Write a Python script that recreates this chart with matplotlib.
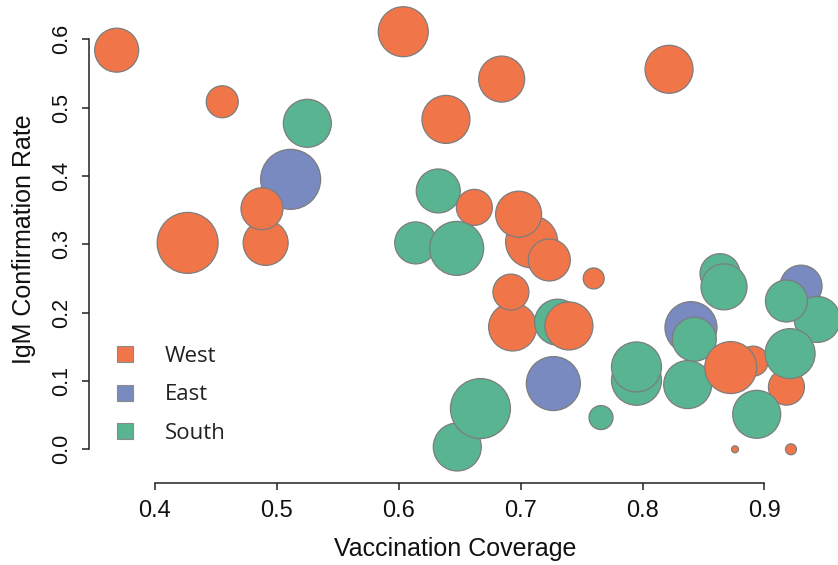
import matplotlib
matplotlib.use("Agg")
from matplotlib import pyplot as plt
from matplotlib.lines import Line2D

# vaccination coverage, IgM confirmation rate, bubble size (cases), region
coverage = [0.3686, 0.4552, 0.525, 0.4268, 0.5113, 0.4908, 0.4878, 0.6037,
            0.6844, 0.6387, 0.8217, 0.6324, 0.662, 0.6139, 0.6475, 0.709,
            0.6983, 0.7235, 0.7599, 0.6934, 0.692, 0.7303, 0.7396, 0.648,
            0.667, 0.7268, 0.7659, 0.795, 0.795, 0.8397, 0.8424, 0.837,
            0.8908, 0.8723, 0.918, 0.8936, 0.8635, 0.8668, 0.93, 0.9433,
            0.918, 0.921, 0.8758, 0.9217]
igm_rate = [0.584, 0.5085, 0.477, 0.302, 0.395, 0.302, 0.352, 0.611,
            0.5417, 0.4827, 0.556, 0.378, 0.354, 0.302, 0.294, 0.3035,
            0.344, 0.277, 0.250, 0.179, 0.230, 0.186, 0.1805, 0.0034,
            0.0596, 0.0962, 0.0464, 0.101, 0.1205, 0.178, 0.161, 0.0947,
            0.129, 0.1196, 0.091, 0.0512, 0.257, 0.2377, 0.2387, 0.19,
            0.217, 0.140, 0.0, 0.0]
cases = [484, 256, 576, 930, 900, 506, 441, 625,
         529, 576, 576, 484, 324, 441, 729, 676,
         529, 441, 110, 576, 324, 529, 576, 576,
         900, 729, 144, 625, 625, 676, 484, 576,
         225, 676, 324, 576, 400, 529, 441, 529,
         441, 625, 12, 30]
region = ["West", "West", "South", "West", "East", "West", "West", "West",
          "West", "West", "West", "South", "West", "South", "South", "West",
          "West", "West", "West", "West", "West", "South", "West", "South",
          "South", "East", "South", "South", "South", "East", "South", "South",
          "West", "West", "West", "South", "South", "South", "East", "South",
          "South", "South", "West", "West"]

regions = ["West", "East", "South"]
region_colors = {"West": "#F0764A", "East": "#798AC1", "South": "#58B491"}

fig = plt.figure(figsize=(8.38, 5.65), dpi=100)
ax = fig.add_axes([89 / 838, 1 - 483 / 565, 749 / 838, 483 / 565])

# radius in px ~ sqrt(cases); scatter s is diameter^2 in points
sizes = [(2 * c ** 0.5 * 0.72) ** 2 for c in cases]
colors = [region_colors[r] for r in region]
ax.scatter(coverage, igm_rate, s=sizes, c=colors, edgecolors="#7d7d7d",
           linewidths=0.9, clip_on=False, zorder=3)

ax.set_xlim(0.3459, 0.9603)
ax.set_ylim(-0.0493, 0.6574)

for side in ["top", "right"]:
    ax.spines[side].set_visible(False)
ax.spines["left"].set_bounds(0, 0.6)
ax.spines["bottom"].set_bounds(0.4, 0.9)
for side in ["left", "bottom"]:
    ax.spines[side].set_linewidth(1.1)
    ax.spines[side].set_color("#222222")

ax.set_xticks([0.4, 0.5, 0.6, 0.7, 0.8, 0.9])
ax.set_yticks([0.0, 0.1, 0.2, 0.3, 0.4, 0.5, 0.6])
ax.set_xticklabels(["0.4", "0.5", "0.6", "0.7", "0.8", "0.9"],
                   family="Liberation Sans", fontsize=17)
ax.set_yticklabels(["0.0", "0.1", "0.2", "0.3", "0.4", "0.5", "0.6"],
                   family=["Liberation Sans Narrow", "Liberation Sans"],
                   fontsize=15.5, rotation=90, va="center")
ax.tick_params(direction="out", length=5, width=1.1, color="#222222",
               pad=7, labelcolor="#111111")

ax.set_xlabel("Vaccination Coverage", family="Liberation Sans", fontsize=18,
              va="center", color="#111111")
ax.xaxis.set_label_coords(0.4887, -0.1366)
ax.set_ylabel("IgM Confirmation Rate", family="Liberation Sans", fontsize=18,
              va="center", color="#111111")
ax.yaxis.set_label_coords(-0.0868, 0.505)

handles = [Line2D([], [], linestyle="none", marker="s", markersize=11.5,
                  markerfacecolor=region_colors[r], markeredgecolor="#8a8a8a",
                  markeredgewidth=0.8, label=r) for r in regions]
leg = ax.legend(handles=handles, loc="center left", frameon=False,
                bbox_to_anchor=(114 / 838, 1 - 395 / 565),
                bbox_transform=fig.transFigure, borderpad=0, borderaxespad=0,
                handlelength=1.0, handletextpad=1.3, labelspacing=0.78,
                prop={"family": "Open Sans", "size": 16})
for t in leg.get_texts():
    t.set_color("#222222")

fig.savefig("out.png", dpi=100)
